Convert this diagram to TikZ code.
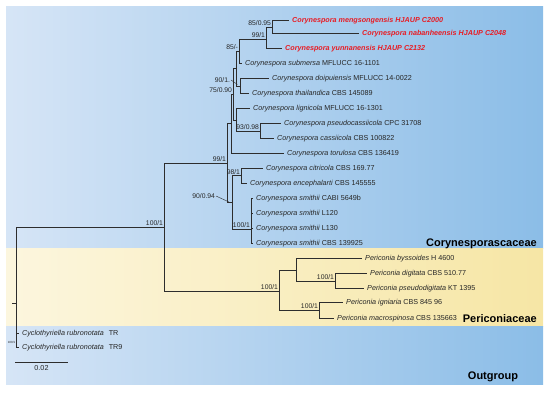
\documentclass[tikz,border=0pt]{standalone}
\usepackage{fontspec}
\setmainfont{Liberation Sans}
\definecolor{bgL}{RGB}{214,229,246}
\definecolor{bgR}{RGB}{139,189,231}
\definecolor{yeL}{RGB}{252,246,222}
\definecolor{yeR}{RGB}{246,230,165}
\definecolor{redsp}{RGB}{232,28,36}
\definecolor{ln}{RGB}{45,45,45}
\tikzset{
  branch/.style={draw=ln, line width=0.75pt},
  ptr/.style={draw=ln, line width=0.4pt},
  sp/.style={anchor=base west, font=\fontsize{7.2}{8}\selectfont, text=black!85, inner sep=0pt, xshift=3pt, yshift=-2.6pt},
  spred/.style={sp, font=\fontsize{7.2}{8}\selectfont\bfseries\itshape, text=redsp},
  bs/.style={anchor=south east, font=\fontsize{6.8}{7}\selectfont, text=black!85, inner sep=0.8pt},
  fam/.style={font=\fontsize{11}{13}\selectfont\bfseries, text=black, inner sep=0pt}
}
\begin{document}
\begin{tikzpicture}[x=1pt,y=-1pt]
\useasboundingbox (0,0) rectangle (550,393);
% backgrounds
\shade[left color=bgL,right color=bgR] (6,7) rectangle (543,249);
\shade[left color=yeL,right color=yeR] (6,249) rectangle (543,327);
\shade[left color=bgL,right color=bgR] (6,327) rectangle (543,385);

% internal nodes
\coordinate (stub) at (12,303);
\coordinate (root) at (16,303);
\coordinate (nO) at (16.8,340);
\coordinate (nI) at (164,227);
\coordinate (nC) at (227,163);
\coordinate (nX) at (231,123.5);
\coordinate (nW) at (233,94);
\coordinate (nV) at (236,68.5);
\coordinate (nCc) at (239,51);
\coordinate (nB) at (266,39);
\coordinate (nA) at (272,27);
\coordinate (nT) at (240,86);
\coordinate (nU) at (236,120);
\coordinate (nQ9) at (260,131);
\coordinate (nY) at (232,202);
\coordinate (nR98) at (241,175.5);
\coordinate (nS) at (251,229);
\coordinate (nP) at (279,291);
\coordinate (nQ) at (296,270);
\coordinate (nDD) at (335,281);
\coordinate (nR) at (319,310);

% leaf tips
\coordinate (t1) at (289,20);
\coordinate (t2) at (359,33);
\coordinate (t3) at (282,48);
\coordinate (t4) at (242,63);
\coordinate (t5) at (269,78);
\coordinate (t6) at (249,93);
\coordinate (t7) at (250,108);
\coordinate (t8) at (281,123);
\coordinate (t9) at (274,138);
\coordinate (t10) at (284,153);
\coordinate (t11) at (263,168);
\coordinate (t12) at (247,183);
\coordinate (t13) at (253,198);
\coordinate (t14) at (253,213);
\coordinate (t15) at (253,228);
\coordinate (t16) at (253,243);
\coordinate (t17) at (362,258);
\coordinate (t18) at (367,273);
\coordinate (t19) at (364,288);
\coordinate (t20) at (343,302);
\coordinate (t21) at (334,318);
\coordinate (t22) at (19,333);
\coordinate (t23) at (19,347);

% branches
\draw[branch] (stub) -- (root);
\draw[branch] (root) |- (nI);
\draw[branch] (root) |- (nO);
\draw[branch] (nO) |- (t22);
\draw[branch] (nO) |- (t23);
\draw[branch] (nI) |- (nC);
\draw[branch] (nI) |- (nP);
\draw[branch] (nC) |- (nX);
\draw[branch] (nC) |- (nY);
\draw[branch] (nX) |- (nW);
\draw[branch] (nX) |- (t10);
\draw[branch] (nW) |- (nV);
\draw[branch] (nW) |- (nU);
\draw[branch] (nV) |- (nCc);
\draw[branch] (nV) |- (nT);
\draw[branch] (nCc) |- (nB);
\draw[branch] (nCc) |- (t4);
\draw[branch] (nB) |- (nA);
\draw[branch] (nB) |- (t3);
\draw[branch] (nA) |- (t1);
\draw[branch] (nA) |- (t2);
\draw[branch] (nT) |- (t5);
\draw[branch] (nT) |- (t6);
\draw[branch] (nU) |- (t7);
\draw[branch] (nU) |- (nQ9);
\draw[branch] (nQ9) |- (t8);
\draw[branch] (nQ9) |- (t9);
\draw[branch] (nY) |- (nR98);
\draw[branch] (nY) |- (nS);
\draw[branch] (nR98) |- (t11);
\draw[branch] (nR98) |- (t12);
\draw[branch] (nS) |- (t13);
\draw[branch] (nS) |- (t14);
\draw[branch] (nS) |- (t15);
\draw[branch] (nS) |- (t16);
\draw[branch] (nP) |- (nQ);
\draw[branch] (nP) |- (nR);
\draw[branch] (nQ) |- (t17);
\draw[branch] (nQ) |- (nDD);
\draw[branch] (nDD) |- (t18);
\draw[branch] (nDD) |- (t19);
\draw[branch] (nR) |- (t20);
\draw[branch] (nR) |- (t21);

% taxon labels
\node[spred] (l1) at (t1) {Corynespora mengsongensis HJAUP C2000};
\node[spred] (l2) at (t2) {Corynespora nabanheensis HJAUP C2048};
\node[spred] (l3) at (t3) {Corynespora yunnanensis HJAUP C2132};
\node[sp] (l4) at (t4) {\textit{Corynespora submersa} MFLUCC 16-1101};
\node[sp] (l5) at (t5) {\textit{Corynespora doipuiensis} MFLUCC 14-0022};
\node[sp] (l6) at (t6) {\textit{Corynespora thailandica} CBS 145089};
\node[sp] (l7) at (t7) {\textit{Corynespora lignicola} MFLUCC 16-1301};
\node[sp] (l8) at (t8) {\textit{Corynespora pseudocassiicola} CPC 31708};
\node[sp] (l9) at (t9) {\textit{Corynespora cassiicola} CBS 100822};
\node[sp] (l10) at (t10) {\textit{Corynespora torulosa} CBS 136419};
\node[sp] (l11) at (t11) {\textit{Corynespora citricola} CBS 169.77};
\node[sp] (l12) at (t12) {\textit{Corynespora encephalarti} CBS 145555};
\node[sp] (l13) at (t13) {\textit{Corynespora smithii} CABI 5649b};
\node[sp] (l14) at (t14) {\textit{Corynespora smithii} L120};
\node[sp] (l15) at (t15) {\textit{Corynespora smithii} L130};
\node[sp] (l16) at (t16) {\textit{Corynespora smithii} CBS 139925};
\node[sp] (l17) at (t17) {\textit{Periconia byssoides} H 4600};
\node[sp] (l18) at (t18) {\textit{Periconia digitata} CBS 510.77};
\node[sp] (l19) at (t19) {\textit{Periconia pseudodigitata} KT 1395};
\node[sp] (l20) at (t20) {\textit{Periconia igniaria} CBS 845 96};
\node[sp] (l21) at (t21) {\textit{Periconia macrospinosa} CBS 135663};
\node[sp] (l22) at (t22) {\textit{Cyclothyriella rubronotata}\hspace{3pt} TR};
\node[sp] (l23) at (t23) {\textit{Cyclothyriella rubronotata}\hspace{3pt} TR9};

% support values
\node[bs] (sA) at (nA) {85/0.95};
\node[bs] (sB) at (nB) {99/1};
\node[bs] (sCc) at (nCc) {85/-};
\node[bs] (sW) at (nW) {75/0.90};
\node[bs] (sQ9) at (nQ9) {93/0.98};
\node[bs] (sC) at (nC) {99/1};
\node[bs] (sR98) at (nR98) {98/1};
\node[bs] (sS) at (nS) {100/1};
\node[bs] (sI) at (nI) {100/1};
\node[bs] (sP) at (nP) {100/1};
\node[bs] (sDD) at (nDD) {100/1};
\node[bs] (sR) at (nR) {100/1};
\node[bs, anchor=east] (sV) at (231,80) {90/1.};
\coordinate (pV) at (237.5,84.5);
\draw[ptr] (sV.east) -- (pV);
\node[bs, anchor=east] (sY) at (216,196) {90/0.94};
\coordinate (pY) at (229,202);
\draw[ptr] (sY.east) -- (pY);
\node[anchor=east, font=\fontsize{3}{3}\selectfont, text=black!85, inner sep=0.3pt] (sO) at (15.8,342) {100/1};

% scale bar
\coordinate (sb1) at (15,362);
\coordinate (sb2) at (68,362);
\draw[branch] (sb1) -- (sb2);
\node[font=\fontsize{7.2}{8}\selectfont, text=black!85, anchor=base] (sbl) at (41.5,371) {0.02};

% family labels
\node[fam, anchor=base east] (f1) at (537,247) {Corynesporascaceae};
\node[fam, anchor=base east] (f2) at (537,323) {Periconiaceae};
\node[fam, anchor=base] (f3) at (493,380) {Outgroup};
\end{tikzpicture}
\end{document}
